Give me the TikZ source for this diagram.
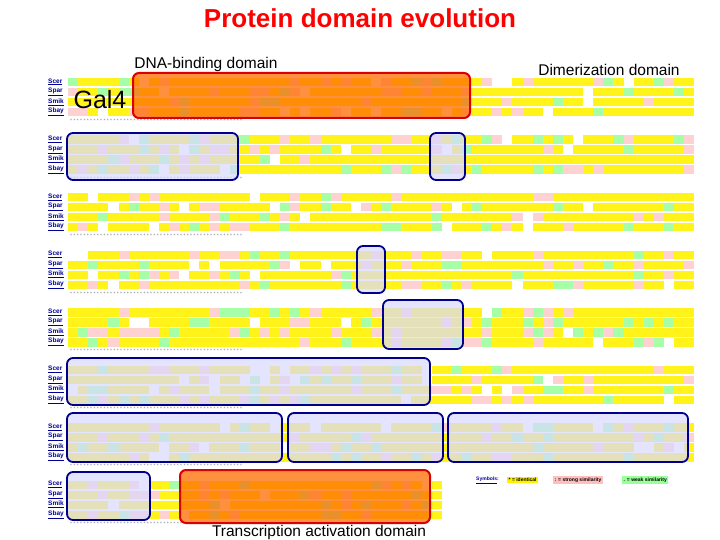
\documentclass[tikz,border=0pt]{standalone}
\usepackage{fontspec}
\setmainfont{Liberation Sans}
\begin{document}
\begin{tikzpicture}[x=1pt,y=-1pt,
  seqlab/.style={font=\fontsize{6.5}{6.5}\selectfont\bfseries\rmfamily, text=blue!60!black, anchor=west, inner sep=0},
  redbox/.style={draw=red!85!black, line width=2pt, rounded corners=6pt, fill=orange!85!red, fill opacity=0.75},
  bluebox/.style={draw=blue!55!black, line width=1.8pt, rounded corners=6pt, fill=blue!15, fill opacity=0.7},
  lbl/.style={font=\fontsize{15.5}{15.5}\selectfont, inner sep=0}]
\useasboundingbox (0,0) rectangle (720,540);
\fill[white] (0,0) rectangle (720,540);
\pgfmathsetseed{7}
\foreach \b in {0,...,7}{
  \pgfmathsetmacro{\ytop}{77+\b*57.5}
  \pgfmathtruncatemacro{\ncol}{\b==7 ? 36 : 61}
  \foreach \r [count=\i from 0] in {Scer,Spar,Smik,Sbay}{
    \pgfmathsetmacro{\yy}{\ytop+\i*10}
    \node[seqlab] (l\b\i) at (48,\yy+5) {\underline{\r}};
    \foreach \c in {0,...,\ncol}{
      \pgfmathsetmacro{\rr}{rnd}
      \pgfmathsetmacro{\xx}{68+\c*10.1}
      \ifdim\rr pt<0.72pt \fill[yellow!90] (\xx,\yy+1) rectangle ++(10.1,8.5);
      \else\ifdim\rr pt<0.84pt \fill[pink!70] (\xx,\yy+1) rectangle ++(10.1,8.5);
      \else\ifdim\rr pt<0.94pt \fill[green!35] (\xx,\yy+1) rectangle ++(10.1,8.5);
      \fi\fi\fi
    }
  }
  \node[font=\fontsize{5}{5}\selectfont, text=gray, anchor=west, inner sep=0] (s\b) at (70,\ytop+44) {* * * * * * * * * * * * * * * * * * * * * * * * * * * * * * * * * * * * * * * * * * * * * * * * * * * *};
}
% boxes
\draw[redbox] (133,73) rectangle (470,118);
\draw[bluebox] (67,133) rectangle (238,180);
\draw[bluebox] (430,133) rectangle (465,180);
\draw[bluebox] (357,246) rectangle (385,293);
\draw[bluebox] (383,300) rectangle (463,349);
\draw[bluebox] (67,358) rectangle (430,405);
\draw[bluebox] (67,413) rectangle (282,462);
\draw[bluebox] (288,413) rectangle (443,462);
\draw[bluebox] (448,413) rectangle (688,462);
\draw[bluebox] (67,472) rectangle (150,520);
\draw[redbox] (180,470) rectangle (430,523);
% legend
\node[font=\fontsize{5}{5}\selectfont\bfseries\rmfamily, text=blue!60!black, anchor=west, inner sep=1pt] (sym) at (475,480) {\underline{Symbols}:};
\node[font=\fontsize{5}{5}\selectfont\bfseries\rmfamily, fill=yellow, anchor=west, inner sep=1.5pt] (k1) at (507,480) {* = identical};
\node[font=\fontsize{5}{5}\selectfont\bfseries\rmfamily, fill=pink, anchor=west, inner sep=1.5pt] (k2) at (553,480) {: = strong similarity};
\node[font=\fontsize{5}{5}\selectfont\bfseries\rmfamily, fill=green!40, anchor=west, inner sep=1.5pt] (k3) at (622,480) {. = weak similarity};
% labels
\node[font=\fontsize{26}{26}\selectfont\bfseries, text=red] (title) at (360,18) {Protein domain evolution};
\node[lbl] (dna) at (206,64) {DNA-binding domain};
\node[lbl] (dim) at (609,70) {Dimerization domain};
\node[font=\fontsize{25}{25}\selectfont, inner sep=0] (gal) at (100,100) {Gal4};
\node[lbl] (ta) at (319,532) {Transcription activation domain};
\end{tikzpicture}
\end{document}
